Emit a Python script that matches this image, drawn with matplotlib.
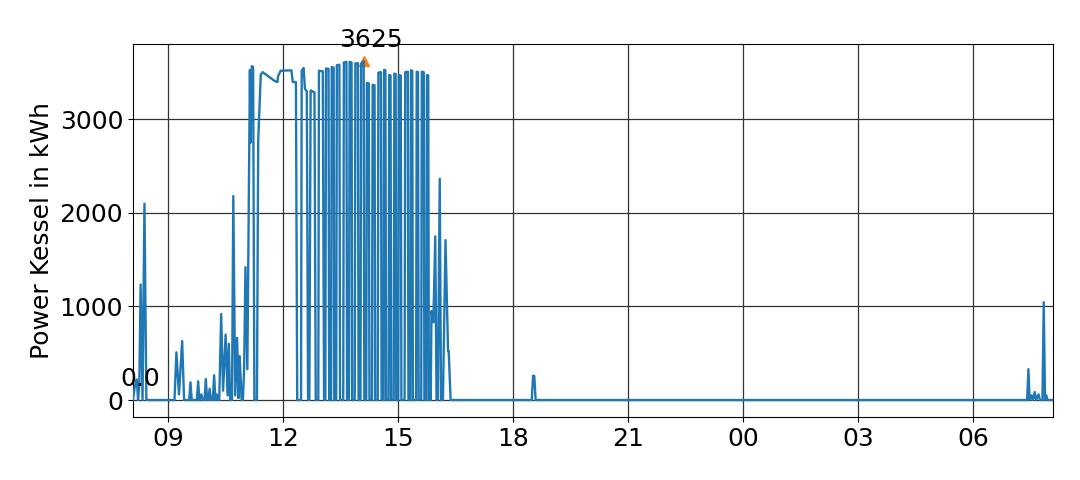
import matplotlib
matplotlib.use("Agg")
import matplotlib.pyplot as plt
import matplotlib.dates as mdates
import pandas as pd

# Day 1 samples (HH:MM) and values in kWh
day1_times = [
    "08:05", "08:08", "08:11", "08:13", "08:15", "08:17", "08:20", "08:23", "08:26",
    "09:10", "09:13", "09:17", "09:22", "09:25", "09:33", "09:35", "09:37",
    "09:45", "09:47", "09:49", "09:52", "09:54", "09:57", "09:59", "10:01",
    "10:03", "10:05", "10:07", "10:10", "10:12", "10:14", "10:16", "10:18",
    "10:20", "10:23", "10:26", "10:30", "10:33", "10:35", "10:37", "10:40",
    "10:42", "10:45", "10:48", "10:50", "10:52", "10:55", "10:57", "10:59",
    "11:01", "11:04", "11:08", "11:09", "11:11", "11:13", "11:15", "11:19",
    "11:21", "11:25", "11:28", "11:31", "11:39", "11:47", "11:51", "11:52",
    "11:56", "12:13", "12:15", "12:20", "12:22", "12:28", "12:29", "12:32",
    "12:34", "12:37", "12:39", "12:41", "12:43", "12:49", "12:51",
    "12:55", "12:56", "13:02", "13:04",
    "13:06", "13:07", "13:11", "13:12",
    "13:15", "13:16", "13:19", "13:20",
    "13:23", "13:24", "13:28", "13:29",
    "13:34", "13:35", "13:39", "13:40",
    "13:43", "13:44", "13:47", "13:48",
    "13:52", "13:53", "13:57", "13:58",
    "14:01", "14:02", "14:06", "14:07",
    "14:10", "14:11", "14:14", "14:15",
    "14:19", "14:20", "14:23", "14:24",
    "14:28", "14:29", "14:33", "14:34",
    "14:37", "14:38", "14:40", "14:41",
    "14:45", "14:46", "14:48", "14:49",
    "14:53", "14:54", "14:56", "14:57",
    "15:00", "15:01", "15:04", "15:05",
    "15:10", "15:11", "15:15", "15:16",
    "15:19", "15:20", "15:22", "15:23",
    "15:28", "15:29", "15:31", "15:32",
    "15:36", "15:37", "15:40", "15:41",
    "15:44", "15:45", "15:47", "15:48",
    "15:51", "15:52", "15:55", "15:58", "16:00", "16:02", "16:05", "16:07",
    "16:10", "16:14", "16:18", "16:19", "16:22",
    "18:29", "18:31", "18:33", "18:35",
]
day1_values = [
    0, 150, 220, 0, 180, 1235, 0, 2100, 0,
    0, 510, 60, 630, 0, 0, 190, 0,
    0, 200, 0, 60, 0, 0, 225, 0,
    0, 120, 0, 0, 265, 0, 60, 0,
    0, 920, 100, 700, 50, 600, 0, 0,
    2180, 50, 665, 20, 470, 0, 0, 350,
    1420, 330, 3530, 2750, 3570, 3560, 0, 0,
    2780, 3480, 3505, 3490, 3450, 3410, 3400, 3460,
    3520, 3525, 3400, 3400, 0, 0, 3520, 3550,
    3330, 3300, 0, 0, 3310, 3290, 0,
    0, 3520, 3515, 0,
    0, 3545, 3540, 0,
    0, 3560, 3555, 0,
    0, 3580, 3585, 0,
    0, 3610, 3615, 0,
    0, 3615, 3610, 0,
    0, 3600, 3600, 0,
    0, 3595, 3625, 0,
    0, 3390, 3385, 0,
    0, 3370, 3365, 0,
    0, 3500, 3505, 0,
    0, 3530, 3525, 0,
    0, 3475, 3470, 0,
    0, 3490, 3485, 0,
    0, 3475, 3470, 0,
    0, 3505, 3510, 0,
    0, 3525, 3520, 0,
    0, 3510, 3505, 0,
    0, 3510, 3505, 0,
    0, 3475, 3470, 0,
    0, 950, 830, 1750, 0, 0, 2365, 0,
    0, 1710, 525, 525, 0,
    0, 260, 255, 0,
]

# Day 2 samples
day2_times = [
    "07:24", "07:26", "07:28", "07:31", "07:33", "07:36", "07:38", "07:42",
    "07:44", "07:48", "07:50", "07:52", "07:54", "07:56", "08:05",
]
day2_values = [
    0, 330, 0, 50, 0, 85, 0, 60,
    0, 0, 1045, 0, 50, 0, 0,
]

ylabel = "Power Kessel in kWh"

times = pd.to_datetime(["2023-05-10 " + t for t in day1_times] +
                       ["2023-05-11 " + t for t in day2_times])
values = day1_values + day2_values
series = pd.Series(values, index=times)

fig = plt.figure(figsize=(10.8, 4.8), dpi=100)
ax = fig.add_axes([0.1231, 0.1313, 0.8522, 0.777])

ax.plot(series.index, series.values, color="#1f77b4", linewidth=1.7, zorder=3)

t_max = series.idxmax()
v_max = series.max()
t_min = series.idxmin()
v_min = series.min()

ax.plot([t_max], [v_max], marker="^", color="#ff7f0e", markersize=7,
        linestyle="none", zorder=2)
ax.annotate(f"{int(v_max)}", xy=(t_max, v_max), xytext=(5, 10),
            textcoords="offset points", ha="center", fontsize=18)
ax.annotate(f"{float(v_min):.1f}", xy=(t_min, v_min), xytext=(5, 10),
            textcoords="offset points", ha="center", fontsize=18)

ax.set_xlim(series.index[0], series.index[-1])
ax.set_ylim(-0.05 * v_max, 1.05 * v_max)
ax.set_yticks([0, 1000, 2000, 3000])
ax.xaxis.set_major_locator(mdates.HourLocator(byhour=range(0, 24, 3)))
ax.xaxis.set_major_formatter(mdates.DateFormatter("%H"))
ax.tick_params(labelsize=18)
ax.set_ylabel(ylabel, fontsize=18)
ax.grid(True, color="#333333", linewidth=0.9)
ax.set_axisbelow(True)

fig.savefig("out.png", dpi=100)
